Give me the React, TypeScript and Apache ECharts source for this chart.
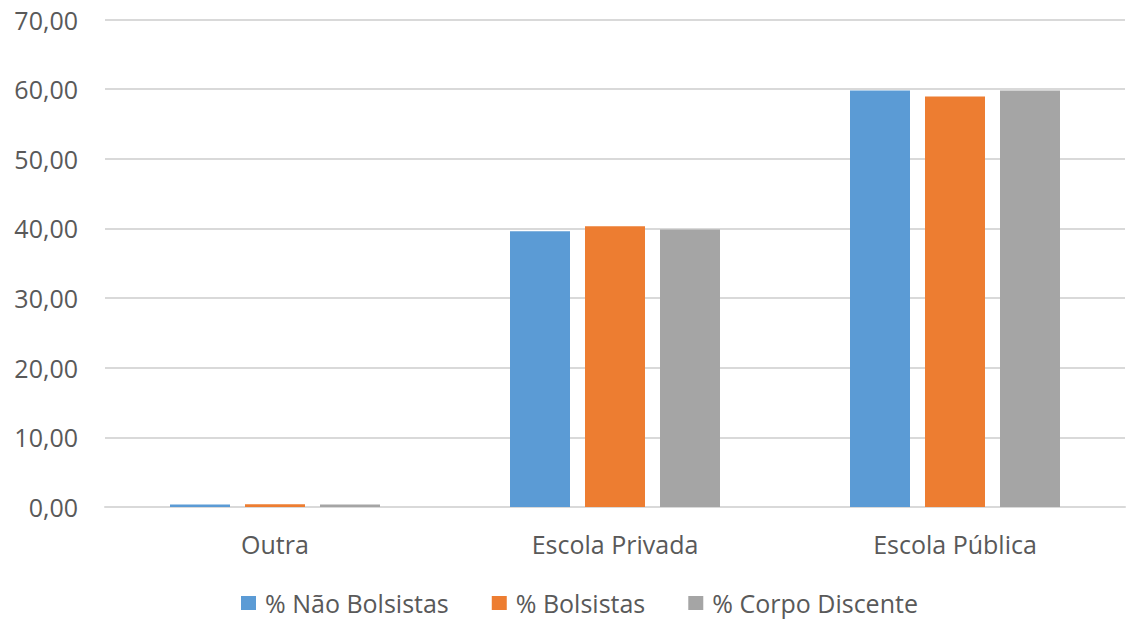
import React, { useEffect, useRef } from "react";
import * as echarts from "echarts";

const categories = ["Outra", "Escola Privada", "Escola Pública"];
const naoBolsistas = [0.35, 39.6, 59.8];
const bolsistas = [0.4, 40.3, 58.95];
const corpoDiscente = [0.35, 39.85, 59.8];
const seriesNames = ["% Não Bolsistas", "% Bolsistas", "% Corpo Discente"];
const colors = ["#5B9BD5", "#ED7D31", "#A5A5A5"];

export default function App() {
  const ref = useRef<HTMLDivElement>(null);
  useEffect(() => {
    if (!ref.current) return;
    const chart = echarts.init(ref.current, null, { renderer: "svg" });
    const font = "'Open Sans', 'Noto Sans', sans-serif";
    const data = [naoBolsistas, bolsistas, corpoDiscente];
    chart.setOption({
      animation: false,
      textStyle: { fontFamily: font },
      grid: { left: 105, right: 2, top: 19.5, bottom: 112, containLabel: false },
      legend: {
        top: 590,
        left: 241,
        padding: 0,
        itemWidth: 15,
        itemHeight: 14,
        itemGap: 43,
        icon: "rect",
        textStyle: {
          fontSize: 25,
          lineHeight: 26,
          color: "#595959",
          fontFamily: font,
          padding: [0, 0, 0, 4],
        },
        data: seriesNames,
      },
      xAxis: {
        type: "category",
        data: categories,
        axisLine: { lineStyle: { color: "#D9D9D9", width: 2 } },
        axisTick: { show: false },
        axisLabel: { fontSize: 25, color: "#595959", margin: 24, fontFamily: font },
      },
      yAxis: {
        type: "value",
        min: 0,
        max: 70,
        interval: 10,
        axisLine: { show: false },
        axisTick: { show: false },
        splitLine: { lineStyle: { color: "#D9D9D9", width: 2 } },
        axisLabel: {
          fontSize: 25,
          color: "#595959",
          margin: 27,
          fontFamily: font,
          formatter: (v: number) => v.toFixed(2).replace(".", ","),
        },
      },
      series: seriesNames.map((name, i) => ({
        name,
        type: "bar",
        data: data[i],
        barWidth: 60,
        barGap: "25%",
        itemStyle: { color: colors[i] },
      })),
    });
    return () => chart.dispose();
  }, []);
  return (
    <div
      ref={ref}
      style={{ position: "absolute", left: 0, top: 0, width: 1127, height: 619 }}
    />
  );
}
